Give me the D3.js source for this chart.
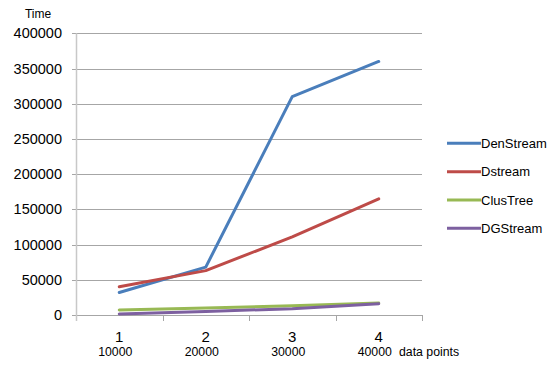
<!DOCTYPE html>
<html>
<head>
<meta charset="utf-8">
<script src="https://cdn.jsdelivr.net/npm/d3@7/dist/d3.min.js"></script>
<style>
  html, body { margin: 0; padding: 0; background: #fff; }
  svg { display: block; font-family: "Liberation Sans", Arial, sans-serif; }
</style>
</head>
<body>
<svg id="chart" width="555" height="369"></svg>
<script>
// Categories along the x axis and their data-point counts
const categories = ["1", "2", "3", "4"];
const dataPoints = ["10000", "20000", "30000", "40000"];

// Run time for each algorithm
const denStream = [32000, 68000, 310000, 360000];
const dStream   = [40000, 63000, 111000, 165000];
const clusTree  = [7000, 10000, 13000, 17000];
const dgStream  = [1500, 5000, 9000, 16000];

const seriesNames = ["DenStream", "Dstream", "ClusTree", "DGStream"];
const seriesColors = ["#4a7ebb", "#be4b48", "#98b954", "#7d60a0"];
const yTicks = [0, 50000, 100000, 150000, 200000, 250000, 300000, 350000, 400000];

const series = [denStream, dStream, clusTree, dgStream].map((values, i) => ({
  name: seriesNames[i], color: seriesColors[i], values
}));

const svg = d3.select("#chart");
const plotLeft = 76, plotRight = 422, plotTop = 33.3, plotBottom = 315;

const x = d3.scaleBand().domain(categories).range([plotLeft, plotRight]).padding(0);
const y = d3.scaleLinear().domain([0, 400000]).range([plotBottom, plotTop]);

// Horizontal gridlines with short ticks left of the axis
svg.append("g")
  .selectAll("line")
  .data(yTicks)
  .join("line")
  .attr("x1", plotLeft - 4).attr("x2", plotRight)
  .attr("y1", d => Math.round(y(d)) + 0.5).attr("y2", d => Math.round(y(d)) + 0.5)
  .attr("stroke", "#a6a6a6").attr("stroke-width", 1);

// Vertical value axis
svg.append("line")
  .attr("x1", plotLeft + 0.5).attr("x2", plotLeft + 0.5)
  .attr("y1", plotTop).attr("y2", plotBottom + 6)
  .attr("stroke", "#c8c8c8").attr("stroke-width", 1.5);

// Category tick marks under the baseline
const boundaries = categories.map(c => x(c)).concat([plotRight]);
svg.append("g")
  .selectAll("line")
  .data(boundaries.slice(1))
  .join("line")
  .attr("x1", d => Math.round(d) + 0.5).attr("x2", d => Math.round(d) + 0.5)
  .attr("y1", plotBottom).attr("y2", plotBottom + 6)
  .attr("stroke", "#a6a6a6").attr("stroke-width", 1);

// Y tick labels
svg.append("g")
  .selectAll("text")
  .data(yTicks)
  .join("text")
  .attr("x", 62).attr("y", d => y(d))
  .attr("dy", "0.35em")
  .attr("text-anchor", "end")
  .attr("font-size", "14.5px")
  .attr("fill", "#000")
  .text(d => d);

svg.append("text")
  .attr("x", 38).attr("y", 14).attr("dy", "0.35em")
  .attr("text-anchor", "middle")
  .attr("font-size", "12px")
  .text("Time");

// Category labels and data-point counts
const cx = c => x(c) + x.bandwidth() / 2;
svg.append("g")
  .selectAll("text")
  .data(categories)
  .join("text")
  .attr("x", d => cx(d)).attr("y", 337).attr("dy", "0.35em")
  .attr("text-anchor", "middle")
  .attr("font-size", "15px")
  .text(d => d);

svg.append("g")
  .selectAll("text")
  .data(dataPoints)
  .join("text")
  .attr("x", (d, i) => cx(categories[i]) - 4).attr("y", 352).attr("dy", "0.35em")
  .attr("text-anchor", "middle")
  .attr("font-size", "12.3px")
  .text(d => d);

svg.append("text")
  .attr("x", 399).attr("y", 352).attr("dy", "0.35em")
  .attr("font-size", "12.3px")
  .text("data points");

// Series lines
const line = d3.line()
  .x((d, i) => cx(categories[i]))
  .y(d => y(d));

svg.append("g")
  .selectAll("path")
  .data(series)
  .join("path")
  .attr("d", s => line(s.values))
  .attr("fill", "none")
  .attr("stroke", s => s.color)
  .attr("stroke-width", 3)
  .attr("stroke-linejoin", "round")
  .attr("stroke-linecap", "round");

// Legend
const legendY = [143.3, 171.7, 200, 228.3];
const legend = svg.append("g")
  .selectAll("g")
  .data(series)
  .join("g")
  .attr("transform", (s, i) => `translate(0,${legendY[i]})`);
legend.append("line")
  .attr("x1", 447).attr("x2", 481)
  .attr("stroke", s => s.color).attr("stroke-width", 3);
legend.append("text")
  .attr("x", 481).attr("dy", "0.35em")
  .attr("font-size", "13px")
  .text(s => s.name);
</script>
</body>
</html>
